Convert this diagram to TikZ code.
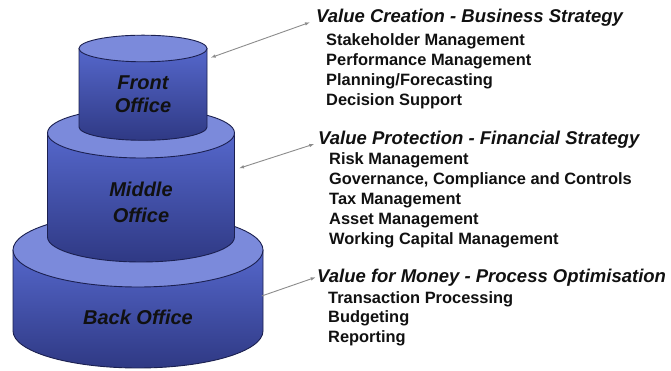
\documentclass[tikz,border=0pt]{standalone}
\usepackage{fontspec}
\setmainfont{Liberation Sans}
\usetikzlibrary{arrows.meta}
\definecolor{topc}{HTML}{7B8ADB}
\definecolor{sidetop}{HTML}{5567CB}
\definecolor{sidemid}{HTML}{5164C6}
\definecolor{sidebot}{HTML}{2F3984}
\definecolor{edgec}{HTML}{1B2050}
\definecolor{arrc}{HTML}{8C8C8C}
\definecolor{txt}{HTML}{111111}
\tikzset{
  sideface/.style={top color=sidetop, middle color=sidemid, bottom color=sidebot, draw=edgec, line width=0.9pt},
  topface/.style={fill=topc, draw=edgec, line width=0.9pt},
  cyllabel/.style={font=\fontsize{20}{24}\selectfont\bfseries\itshape, text=txt, align=center, inner sep=0pt},
  headtxt/.style={font=\fontsize{18.5}{20}\selectfont\bfseries\itshape, text=txt, anchor=base west, inner sep=0pt},
  itemtxt/.style={font=\fontsize{16.4}{20}\selectfont\bfseries, text=txt, anchor=base west, inner sep=0pt},
  link/.style={draw=arrc, line width=0.9pt},
}
\newcommand\mycyl[5]{% cx, rx, ry, ytop, ybot
  \path[sideface] ({#1-#2},#5) -- ({#1-#2},#4) -- ({#1+#2},#4) -- ({#1+#2},#5)
     arc[start angle=0, end angle=-180, x radius=#2, y radius=#3] -- cycle;
  \path[topface] (#1,#4) ellipse[x radius=#2, y radius=#3];
}
\begin{document}
\begin{tikzpicture}[x=1pt,y=1pt]
\useasboundingbox[fill=white] (0,0) rectangle (671,371);
% cylinders (y = 371 - pixel row)
\mycyl{138}{125}{37}{121}{40}
\mycyl{141}{93.5}{25}{238}{134}
\mycyl{143}{64}{13.3}{322.5}{244}
% labels
\node[cyllabel, anchor=base] (front1) at (143,281.7) {Front};
\node[cyllabel, anchor=base] (front2) at (143,258) {Office};
\node[cyllabel, anchor=base] (mid1) at (141,174.3) {Middle};
\node[cyllabel, anchor=base] (mid2) at (141,148.7) {Office};
\node[cyllabel, anchor=base] (back) at (138,46) {Back Office};
% headings and items
\node[headtxt] (h1) at (316,348.5) {Value Creation - Business Strategy};
\node[itemtxt] (i11) at (326,325.3) {Stakeholder Management};
\node[itemtxt] (i12) at (326,305.3) {Performance Management};
\node[itemtxt] (i13) at (326,285) {Planning/Forecasting};
\node[itemtxt] (i14) at (326,265) {Decision Support};
\node[headtxt] (h2) at (318,226) {Value Protection - Financial Strategy};
\node[itemtxt] (i21) at (329,206) {Risk Management};
\node[itemtxt] (i22) at (329,186) {Governance, Compliance and Controls};
\node[itemtxt] (i23) at (329,166) {Tax Management};
\node[itemtxt] (i24) at (329,146) {Asset Management};
\node[itemtxt] (i25) at (329,126) {Working Capital Management};
\node[headtxt] (h3) at (317,88) {Value for Money - Process Optimisation};
\node[itemtxt] (i31) at (328,67.7) {Transaction Processing};
\node[itemtxt] (i32) at (328,48) {Budgeting};
\node[itemtxt] (i33) at (328,28) {Reporting};
% connectors
\coordinate (a1s) at (210.7,313.3);
\coordinate (a1e) at (310,348.7);
\coordinate (a2s) at (239,202.7);
\coordinate (a2e) at (314.3,227);
\coordinate (a3s) at (261.7,75);
\coordinate (a3e) at (315.7,93.7);
\draw[link, {Latex[length=5pt,width=3.5pt]}-{Latex[length=5pt,width=3.5pt]}] (a1s) -- (a1e);
\draw[link, {Latex[length=5pt,width=3.5pt]}-{Latex[length=5pt,width=3.5pt]}] (a2s) -- (a2e);
\draw[link, -{Latex[length=5pt,width=3.5pt]}] (a3s) -- (a3e);
\end{tikzpicture}
\end{document}
